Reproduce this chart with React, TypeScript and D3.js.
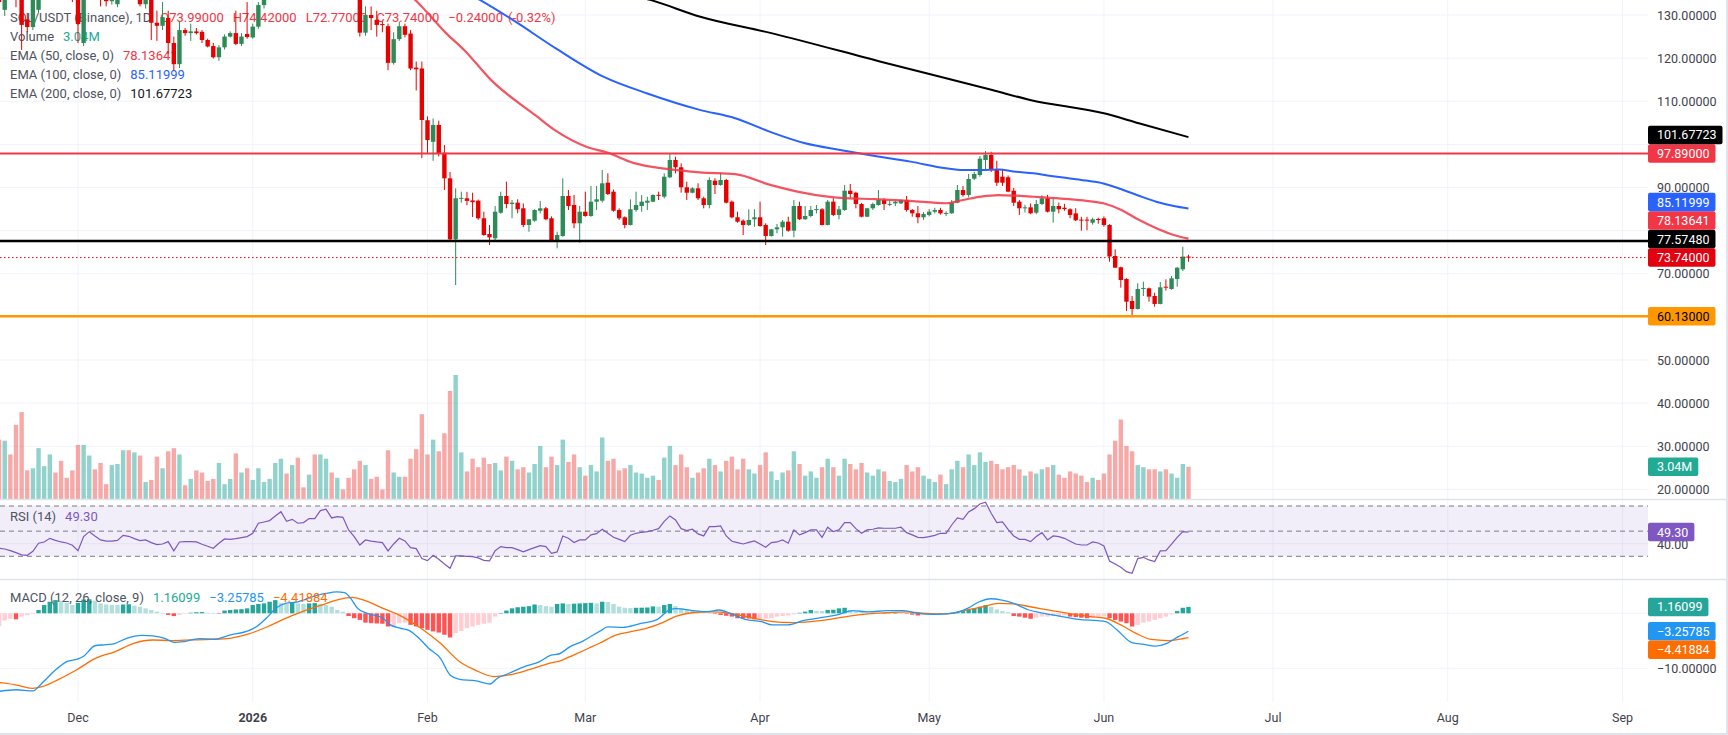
import React from "react"
import * as d3 from "d3"

// ---------- data (SOL/USDT 1D, 2025-11-17 .. 2026-06-16) ----------
const firstCandle = Date.UTC(2025, 10, 17)

// [open, high, low, close] per day
const ohlc: [number, number, number, number][] = [
  // Nov 17 - Nov 30
  [137, 139, 131.5, 133], [131.2, 137, 129.8, 135], [137, 139.5, 134, 135], [136, 137.5, 131.8, 134], [134, 135, 121.9, 127.7],
  [129, 130.5, 126, 127.2], [127.2, 136, 126.5, 134], [131.2, 137, 130.5, 136], [136, 139.5, 134.5, 138], [138, 141.5, 136.5, 140],
  [140, 142, 136, 138], [138, 139.5, 135, 136.5], [136.5, 138, 134, 135.5], [135.5, 137, 133, 134.2],
  // Dec
  [134.2, 135, 123.5, 127.9], [123.5, 136, 122.8, 135], [134, 139, 133.5, 138], [138, 139, 134.5, 136], [136, 137, 132, 134.5],
  [134.5, 135.5, 132, 133.2], [133.2, 135, 132.4, 134], [132.5, 135.5, 131.8, 134.5], [134.5, 139, 134, 138], [138, 140, 135.5, 136.5],
  [136.5, 139.5, 135.5, 138.5], [136, 137, 132, 132.5], [132.5, 134.5, 131.5, 134], [134, 135, 124.2, 128.2], [128.2, 131, 124, 127.5],
  [127.5, 133, 126.5, 129.5], [129.3, 131, 121, 123.5], [123.5, 125, 117.2, 118.6], [118.6, 128.5, 117.7, 126.5], [126.5, 127, 125.2, 125.8],
  [125.8, 128, 124, 126.2], [126.2, 127, 125.5, 125.8], [126.1, 126.5, 123.5, 124.2], [124.2, 124.5, 122.5, 122.7], [122.8, 123.5, 119.9, 120.2],
  [120.2, 123, 119.4, 122.5], [122.5, 125.5, 122, 125], [125, 126.2, 124.8, 125.8], [125.8, 131, 123, 123.3], [123.3, 125.8, 122.8, 125],
  [125.6, 133, 124.5, 124.9],
  // Jan
  [124.8, 128, 124.5, 127.3], [127.3, 133, 126.8, 132.3], [132.3, 137, 131.5, 135.5], [135.5, 138, 134.5, 137],
  [137, 141, 136, 140], [140, 144.5, 139, 143], [143, 144, 140, 141.5], [141.5, 145, 140.5, 143.5], [143.5, 144.5, 139.5, 140.5],
  [140.5, 141.5, 139, 139.8], [139.8, 142, 139, 141.2], [141.2, 142, 137, 138], [138, 142.5, 137.5, 141], [141, 144, 140, 143],
  [143, 144, 140.5, 141.5], [141.5, 143.5, 140.8, 142.5], [142.5, 143, 141.5, 142], [142, 142.5, 139.5, 140.5], [140.5, 141, 134, 137.5],
  [136.5, 138, 125, 125.9], [125.9, 132, 125.2, 130], [130, 132, 126.5, 129.3], [128.9, 131, 125, 127.7], [127.9, 128.5, 126, 127.7],
  [127.4, 128, 117.2, 118.9], [118.9, 126, 118.5, 124.4], [124.4, 128.5, 124, 127.4], [127.4, 128, 124.8, 125.4], [125.7, 126.5, 117.2, 117.6],
  [117.8, 119.2, 112.5, 117.4], [117.6, 119.2, 96.8, 105.65],
  // Feb
  [105.6, 106.5, 97.9, 101], [100.6, 106, 96.2, 104.5], [104.5, 105.5, 97.2, 97.9],
  [98.07, 99.85, 89.42, 92.13], [92.13, 93.59, 77.66, 77.99], [77.99, 89.81, 67.39, 87.5], [87.4, 89.03, 86.5, 87.6], [87.5, 89, 85.9, 86.9],
  [87, 88.79, 83.16, 86.6], [86.94, 87.2, 82.5, 82.86], [82.86, 84.39, 78.8, 78.99], [79.22, 81.3, 76.67, 78.45], [78.22, 85.71, 77.8, 84.39],
  [84.16, 89.03, 83.9, 88.03], [88.03, 91.35, 85.18, 86.17], [86.17, 87.1, 82.86, 86.48], [86.48, 87.26, 84.02, 84.95], [85.18, 86.3, 80.8, 81.31],
  [81.31, 82.7, 79.75, 82.63], [82.3, 84.95, 82.07, 84.78], [84.6, 86.86, 84, 85.18], [85.18, 85.5, 82.4, 82.63], [82.86, 83.3, 77.43, 77.67],
  [77.67, 79.75, 75.9, 78.99], [78.76, 92.13, 78.6, 88.03], [88.03, 89.42, 84.78, 85.71], [85.94, 88.26, 80.54, 81.7], [81.7, 85.71, 77.2, 84.39],
  // Mar
  [84.39, 89.03, 83.23, 83.39], [83.39, 90.35, 83.2, 86.71], [86.7, 90.35, 84.79, 87.26], [86.94, 94.06, 86.5, 90.97], [91.11, 93.29, 88.26, 88.49],
  [89.03, 89.5, 84.39, 84.62], [84.78, 85.18, 82.47, 82.86], [83.09, 83.3, 80.54, 81.31], [81.31, 87.26, 81.2, 84.95], [84.79, 89.03, 84.39, 85.94],
  [85.71, 88.26, 84.39, 86.71], [86.48, 87.87, 84.79, 86.94], [86.71, 88.4, 86.6, 88.26], [88.3, 89.03, 87.1, 88.1], [87.87, 93.29, 87.5, 92.51],
  [92.37, 97.77, 92.2, 96.38], [96.38, 97.14, 93.29, 94.69], [94.69, 95.6, 88.8, 90.05], [90.05, 91.35, 87.1, 88.79], [88.79, 90.05, 88.65, 89.81],
  [89.81, 90.97, 87.1, 87.5], [87.5, 87.87, 85.17, 85.94], [85.94, 92.37, 85.17, 91.74], [91.58, 92.13, 88.49, 90.58], [90.58, 93.43, 90.4, 91.74],
  [91.74, 92, 86.3, 86.48], [86.71, 87, 82.86, 83.09], [83.09, 84.39, 81.84, 82.07], [82.3, 82.63, 78.99, 81.31], [81.31, 84.95, 81.07, 82.47],
  [82.63, 84.95, 80.9, 83.09],
  // Apr
  [83.09, 86.71, 80.9, 81.07], [81.31, 81.7, 76.67, 78.76], [78.76, 80.4, 78.6, 80.3], [80.3, 81.54, 79.4, 80.77],
  [80.77, 82.47, 78.6, 82.07], [82.07, 83.23, 79.75, 79.98], [79.98, 87.1, 78.45, 85.71], [85.71, 86.71, 82.47, 82.63], [82.63, 85.71, 82.5, 83.39],
  [83.39, 85.71, 83.09, 84.78], [84.85, 85.94, 84, 85], [84.95, 85.2, 81.2, 81.31], [81.31, 87.1, 81.2, 86.71], [86.71, 87.5, 83.39, 83.63],
  [83.63, 85.71, 82.63, 84.95], [84.78, 90.58, 84.6, 89.26], [89.26, 90.81, 87.5, 88.49], [88.79, 89.03, 85.17, 86.17], [86.17, 86.4, 83.09, 83.23],
  [83.23, 85.3, 83.1, 85.18], [85.18, 86.48, 84.79, 86.17], [85.94, 89.42, 85.8, 87.1], [87.1, 87.5, 84.78, 86.17], [86.1, 86.94, 85.7, 86.2],
  [86.32, 86.94, 85.7, 86.71], [86.32, 87.26, 86.17, 87.1], [87.1, 88.03, 84.39, 84.79], [84.79, 85, 83.23, 84.02], [84.02, 85.71, 81.7, 83.09],
  // May
  [83.09, 84.3, 82.5, 83.85], [83.63, 85, 83.3, 84.39], [84.39, 85.3, 84, 84.78], [84.78, 85.3, 83.7, 84], [84, 84.5, 83.4, 84.1],
  [84.02, 87.1, 83.9, 86.48], [86.48, 90.58, 86.34, 89.42], [89.42, 90.35, 87.87, 88.26], [88.26, 93.13, 87.72, 91.97], [92.04, 93.67, 91.74, 93.13],
  [92.9, 97.3, 92.5, 96.68], [96.38, 98.46, 94.06, 97.54], [97.54, 98.3, 93.6, 94.06], [94.22, 96.21, 90.35, 91.11], [92.51, 94.06, 90.35, 91.11],
  [92.37, 92.8, 88.9, 89.03], [89.26, 89.9, 85.71, 86.48], [86.71, 87.1, 83.63, 85.18], [85.18, 86, 84.2, 85.4], [85.4, 86.3, 83.8, 84.02],
  [84.16, 87.1, 83.8, 86.17], [86.17, 88.2, 85.9, 87.5], [87.5, 88.3, 84.2, 84.39], [84.39, 87.5, 81.84, 85.71], [85.71, 86.5, 84, 84.95],
  [85.3, 86.2, 84.6, 85], [84.95, 85.2, 82.9, 83.63], [84, 85.2, 82.2, 82.4], [82.55, 83.2, 80, 82.4], [82.55, 83.2, 80.1, 82.4],
  [81.84, 83, 81.4, 82.63],
  // Jun
  [82.7, 83, 81.6, 82.55], [82.86, 83.3, 80.9, 81.31], [81.31, 81.5, 72.8, 74], [74.12, 75.67, 71.3, 71.41],
  [71.5, 71.64, 66.76, 68.55], [68.78, 68.95, 61.37, 63.52], [63.68, 64.85, 60.04, 61.83], [61.83, 67.79, 61.7, 66.46], [66.6, 68.16, 64.84, 66.7],
  [66.62, 66.8, 63.52, 64.69], [64.84, 65.6, 62.35, 63], [63, 68.1, 62.9, 66.86], [67, 68.7, 66.1, 66.86], [66.46, 69.48, 66.3, 68.94],
  [68.78, 71.5, 66.99, 71.41], [71.03, 76.27, 70.64, 73.98], [73.99, 74.42, 72.77, 73.74],
]

// volume in millions, per day
const volumeM = [
  5.6, 5.5, 4.2, 7.0, 8.2, 2.7, 2.9, 4.8, 3.1, 4.2, 2.5, 3.6, 2.0, 2.7,
  5.1, 5.1, 4.1, 2.8, 3.4, 1.4, 3.2, 3.3, 4.6, 4.6, 4.4, 4.1, 1.6, 1.8, 4.0, 2.9, 4.5, 4.8, 4.2, 1.3,
  1.9, 2.7, 2.5, 1.7, 1.9, 3.4, 1.4, 1.9, 4.3, 2.5, 2.9, 1.8, 2.9, 1.6, 1.9, 3.4, 3.8, 2.4, 3.2, 3.9,
  1.1, 2.3, 4.2, 4.2, 3.8, 2.5, 2.0, 0.9, 2.0, 2.8, 3.6, 3.2, 1.9, 2.1, 0.9, 4.6, 2.5, 2.1, 2.1, 3.8,
  4.7, 8.0, 4.2, 5.6, 4.5, 6.2, 10.2, 11.7, 4.4, 2.6, 3.8, 3.0, 3.9, 3.3, 3.4, 2.7, 4.0, 3.6, 2.8, 3.0,
  2.5, 3.3, 5.0, 3.0, 4.0, 3.2, 5.6, 3.5, 4.2, 3.0, 2.2, 3.2, 2.6, 5.8, 3.6, 3.8, 2.7, 2.9, 3.2, 2.5,
  2.4, 2.0, 2.2, 1.8, 3.9, 5.0, 3.2, 4.2, 3.0, 2.0, 2.5, 2.9, 3.8, 3.2, 2.6, 3.6, 4.0, 2.8, 3.8, 2.8,
  2.4, 3.2, 4.4, 2.6, 1.8, 2.5, 2.7, 4.5, 3.3, 2.2, 2.6, 2.0, 3.0, 3.8, 3.0, 2.2, 3.8, 3.3, 2.8, 3.4,
  2.5, 2.2, 2.8, 2.6, 1.7, 1.6, 1.9, 3.2, 2.6, 3.0, 2.2, 1.9, 1.6, 2.3, 1.4, 2.8, 3.6, 3.0, 4.2, 3.2,
  4.4, 3.5, 3.6, 3.3, 2.8, 3.0, 3.2, 2.8, 2.2, 2.6, 2.4, 2.8, 3.0, 3.2, 2.3, 2.0, 2.6, 2.4, 2.2, 1.6,
  2.0, 1.8, 2.4, 4.2, 5.5, 7.5, 5.0, 4.5, 3.2, 3.0, 2.8, 2.8, 2.6, 2.8, 2.4, 2.0, 3.3, 3.04,
]

const rsi14 = [
  36.4, 35.8, 34.5, 32.9, 31.1, 30.8, 34.0, 40.4, 41.4, 44.3, 42.7, 41.4, 40.6, 38.8,
  34.5, 45.7, 49.6, 46.2, 43.0, 42.0, 42.0, 42.7, 46.7, 45.9, 44.1, 42.5, 43.0, 40.9, 39.3, 39.8, 41.7, 34.3, 41.4, 41.7,
  41.7, 41.4, 39.6, 38.0, 36.4, 40.4, 43.8, 43.5, 44.1, 44.9, 45.7, 48.3, 56.3, 57.3, 58.4, 62.1, 65.5, 57.9, 59.4, 56.3,
  56.8, 60.0, 60.0, 66.3, 67.4, 60.5, 61.6, 61.0, 51.0, 45.7, 39.0, 43.0, 42.0, 41.4, 40.9, 34.3, 39.8, 44.3, 42.2, 36.9,
  36.1, 28.2, 26.6, 30.8, 27.6, 23.9, 20.5, 30.3, 30.3, 30.0, 29.7, 28.7, 26.8, 26.3, 34.5, 37.7, 36.9, 36.9, 35.3, 33.5,
  35.3, 36.9, 38.5, 37.7, 32.4, 33.5, 46.2, 44.3, 40.9, 43.0, 43.0, 47.0, 48.0, 51.5, 48.3, 45.1, 43.5, 41.7, 46.7, 48.3,
  49.1, 49.6, 50.7, 52.0, 57.8, 62.1, 58.9, 52.0, 50.4, 51.5, 47.8, 46.2, 53.6, 53.6, 54.1, 46.2, 42.0, 40.9, 39.8, 41.1,
  42.2, 39.8, 37.2, 40.9, 41.4, 43.0, 40.4, 51.0, 47.0, 48.8, 51.0, 51.0, 45.1, 53.1, 49.6, 51.0, 56.8, 56.8, 52.0, 48.3,
  51.0, 51.5, 52.6, 52.3, 52.3, 52.3, 53.1, 48.8, 47.0, 45.1, 44.9, 45.7, 46.7, 48.3, 48.3, 54.9, 60.5, 59.4, 65.3, 67.9,
  71.6, 73.0, 64.2, 56.8, 57.3, 51.5, 46.2, 43.5, 43.5, 41.7, 45.7, 48.8, 43.0, 46.2, 45.7, 44.3, 42.0, 39.8, 39.0, 39.0,
  41.4, 40.6, 38.2, 26.3, 23.9, 21.3, 17.8, 16.5, 28.2, 29.2, 27.1, 25.8, 34.3, 34.5, 39.6, 45.1, 49.6, 49.3,
]

const macdHist = [
  -2.3, -1.3, -1.0, -1.1, -0.6, -0.35, -0.1, 0.6, 1.5, 2.1, 2.4, 2.3, 1.9, 1.5,
  1.9, 2.5, 2.55, 2.3, 1.8, 1.6, 1.5, 1.5, 1.6, 1.65, 1.4, 1.2, 0.9, 0.6, 0.3, 0.0, -0.3, -0.5, -0.3, -0.1,
  0.1, 0.2, 0.22, 0.1, 0.02, -0.06, 0.5, 0.6, 0.7, 0.75, 0.9, 1.5, 1.7, 1.8, 2.1, 2.4, 1.9, 1.7, 1.9, 1.8,
  1.7, 1.8, 1.85, 1.7, 1.5, 1.2, 0.6, 0.3, -0.5, -0.9, -1.2, -1.7, -1.8, -1.85, -1.9, -2.4, -2.4, -1.8, -1.7, -2.1,
  -2.4, -2.7, -3.0, -3.3, -3.5, -3.9, -4.4, -3.6, -3.2, -2.7, -2.4, -2.1, -1.9, -1.7, -0.6, 0.0, 0.5, 0.9, 1.1, 1.2,
  1.3, 1.6, 1.5, 1.3, 1.2, 1.7, 1.8, 1.7, 1.75, 1.8, 1.85, 1.9, 1.8, 2.1, 2.05, 1.7, 1.2, 1.0, 0.95, 1.0,
  1.02, 1.05, 1.25, 1.2, 1.5, 1.7, 1.3, 0.9, 0.7, 0.5, 0.3, 0.1, 0.0, -0.1, -0.3, -0.45, -0.6, -0.9, -0.92, -0.95,
  -1.1, -1.0, -0.95, -0.9, -0.6, -0.5, -0.4, -0.2, 0.1, 0.3, 0.6, 0.45, 0.4, 0.6, 0.65, 0.9, 1.0, 0.6, 0.35, 0.25,
  0.1, 0.05, 0.0, 0.05, 0.02, 0.05, 0.03, -0.1, -0.25, -0.4, -0.3, -0.2, -0.1, 0.05, 0.02, 0.1, 0.2, 0.4, 0.7, 0.9,
  1.2, 1.5, 1.2, 0.7, 0.4, 0.2, -0.5, -0.6, -0.8, -1.0, -0.8, -0.6, -0.6, -0.5, -0.5, -0.4, -0.6, -0.7, -0.8, -0.9,
  -0.8, -0.6, -0.55, -0.9, -1.2, -1.5, -1.8, -2.4, -2.1, -1.7, -1.5, -1.2, -0.9, -0.6, -0.2, 0.4, 1.0, 1.16099,
]

// smooth lines, sampled: [days since 2025-12-01, value]
const macdLine: [number, number][] = [
  [-14, -14.2], [-11, -13.9], [-8, -14.1], [-6.4, -12.7], [-4.3, -10.6], [-2, -8.8], [0, -8.3], [1, -7.8], [3, -5.9], [5, -5.7],
  [6.5, -5.5], [8.6, -4.55], [11.3, -4.0], [13.3, -4.1], [15.4, -4.55], [17.1, -5.3], [18.8, -5.15], [21.5, -4.6], [24.2, -4.7], [26.9, -3.95],
  [30.3, -3.15], [31.7, -2.4], [33.7, -0.6], [35.1, 0.9], [36.8, 1.8], [38.8, 2.05], [40.8, 2.7], [42.5, 3.3], [43.9, 3.6], [45.9, 3.9],
  [47.3, 3.75], [48.6, 2.4], [49.6, 0.9], [51.3, 0], [54.1, -0.9], [55.4, -2.1], [57.1, -2.7], [58.8, -3.15], [60.5, -4.55], [62.2, -6.35],
  [64.3, -8.2], [66, -11.2], [67.7, -12.0], [70.4, -12.25], [73.1, -12.85], [74.4, -11.8], [76.5, -10.9], [79.2, -9.7], [81.9, -8.8], [83.9, -7.6],
  [85.3, -7.4], [87.3, -6.05], [89.4, -5.15], [91.4, -3.95], [92.6, -3.25], [94, -2.45], [96.7, -2.55], [99.4, -1.95], [102.8, -1.1], [104.9, 0.6],
  [106.2, 0.85], [109, 0.5], [111.7, 0.3], [113.7, 0.6], [115.7, 0], [118.4, -1.1], [121.2, -1.5], [123.2, -2.1], [125.9, -2.1], [128.6, -1.35],
  [132, -0.75], [134.7, -0.3], [137.5, 0.5], [140.2, 0.25], [143.6, 0.5], [146.3, 0.5], [149, 0], [151.7, -0.2], [155.1, 0], [157.8, 0.9],
  [159.9, 2.1], [161.9, 2.65], [163.9, 2.4], [166, 1.8], [168.7, 0.6], [171.4, 0], [174.1, -0.5], [177.5, -1.1], [180.9, -1.35], [182.3, -1.5],
  [184.3, -3.0], [187, -5.35], [189.1, -5.65], [191.1, -5.95], [193.2, -5.45], [195.2, -4.25], [197, -3.25785],
]
const signalLine: [number, number][] = [
  [-14, -12.6], [-11.1, -13.0], [-8.1, -13.65], [-6.4, -13.35], [-3.6, -12.1], [-0.3, -10.3], [3.1, -8.2], [6.5, -7.0], [9.9, -5.45], [13.3, -4.85],
  [16.7, -4.95], [20.1, -4.85], [23.5, -4.75], [26.9, -4.55], [30.3, -3.75], [33.7, -2.4], [36.4, -1.1], [39.8, 0.3], [43.2, 1.5], [45.9, 2.4],
  [48.6, 2.9], [50.7, 2.4], [54.1, 0.9], [57.5, -0.6], [60.9, -2.75], [64.3, -5.45], [67.7, -8.8], [70.4, -10.3], [73.8, -11.5], [76.5, -11.2],
  [79.9, -10.3], [83.3, -9.2], [85.9, -8.5], [87.9, -7.6], [90.6, -6.35], [92.6, -5.4], [95.4, -3.95], [98.1, -3.35], [100.8, -2.75], [103.5, -1.8],
  [106.2, -0.5], [108.9, 0.1], [112.3, 0.25], [115.7, 0], [119.8, -0.9], [123.2, -1.5], [126.6, -1.7], [130, -1.5], [133.4, -1.1], [136.8, -0.5],
  [140.2, -0.1], [143.6, 0.1], [147, 0.25], [150.4, 0], [153.8, -0.1], [157.2, 0.5], [160.6, 1.2], [163.3, 1.8], [166, 1.7], [169.4, 1.1],
  [172.8, 0.5], [176.2, -0.1], [179.6, -0.6], [182.3, -0.9], [185, -2.1], [187.7, -3.65], [190.4, -4.75], [193.2, -4.95], [195.2, -4.75], [197, -4.41884],
]

const ema50: [number, number][] = [
  [50, 138.5], [55, 137], [58, 135.2], [59.8, 133.5], [62, 130.5], [65.3, 125.8], [68.5, 121.9], [73.3, 114.9], [81.3, 106.6], [84.6, 103.3],
  [90.3, 99.4], [93.9, 98.1], [98.5, 95.7], [104.5, 94.3], [110.3, 93.5], [116.6, 93.1], [122.8, 90.6], [129, 88.7], [135.2, 87.6], [141.4, 87.3],
  [147.6, 86.9], [154, 86.35], [157, 87.1], [160.2, 87.9], [163.3, 88.25], [166.4, 88.1], [169.5, 87.85], [172.6, 87.6], [175.7, 87.3], [178.9, 86.9],
  [181.9, 86.35], [185.1, 84.8], [188.2, 82.5], [191.3, 80.55], [194.4, 79.0], [197, 78.13641],
]
const ema100: [number, number][] = [
  [65, 138], [71.3, 133.5], [77.2, 128.8], [85.2, 121.9], [93.2, 115.7], [101, 111.8], [110.3, 108.0], [116.6, 106.05], [122.8, 102.9], [129, 100.25],
  [135.2, 98.7], [141.4, 97.3], [147.7, 96.0], [154, 94.45], [157, 94.05], [160.2, 94.05], [163.3, 94.2], [166.4, 93.65], [169.5, 93.3], [172.6, 92.65],
  [175.7, 92.15], [178.8, 91.6], [181.9, 90.95], [185.1, 89.6], [188.2, 88.1], [191.3, 86.7], [194.4, 85.7], [197, 85.11999],
]
const ema200: [number, number][] = [
  [90, 136.5], [101.5, 133.5], [110.4, 129.6], [123, 125.8], [142.6, 119.1], [162.2, 112.6], [168.9, 110.3], [182, 107.2], [188.2, 104.9], [197, 101.67723],
]

const levels = [
  { value: 97.89, color: "#f23645", width: 2 },
  { value: 77.5748, color: "#000000", width: 2.5 },
  { value: 60.13, color: "#ff9800", width: 2.5 },
]
const lastClose = 73.74
const priceTicks = d3.range(20, 131, 10)

// ---------- layout ----------
const W = 1728
const H = 735
const PLOT_R = 1648
const PRICE_BOTTOM = 499
const RSI_TOP = 500
const RSI_BOTTOM = 579
const MACD_BOTTOM = 702
const FONT = "Roboto, 'Noto Sans', sans-serif"
const AXIS_TEXT = "#3f424b"
const LEGEND_TEXT = "#50535e"
const UP = "#2e8b57"
const DOWN = "#e60000"
const LABEL_H = 18.5
const AXIS_FS = 12.5
const LEGEND_FS = 13

const dec1 = Date.UTC(2025, 11, 1)
const dayToDate = (d: number) => new Date(dec1 + d * 864e5)
const candleDate = (i: number) => new Date(firstCandle + i * 864e5)

let measureCtx: CanvasRenderingContext2D | null = null
function textWidth(s: string) {
  if (!measureCtx) measureCtx = document.createElement("canvas").getContext("2d")
  if (!measureCtx) return s.length * 7
  measureCtx.font = `${AXIS_FS}px Roboto`
  return measureCtx.measureText(s).width
}

type AxisLabel = { y: number; text: string; bg: string; fg: string }

// push overlapping price-scale badges apart, like the chart does
function stack(items: AxisLabel[], dir: "up" | "down") {
  const sorted = [...items].sort((a, b) => (dir === "up" ? b.y - a.y : a.y - b.y))
  for (let i = 1; i < sorted.length; i++) {
    const prev = sorted[i - 1]
    if (dir === "up" && sorted[i].y > prev.y - LABEL_H) sorted[i].y = prev.y - LABEL_H
    if (dir === "down" && sorted[i].y < prev.y + LABEL_H) sorted[i].y = prev.y + LABEL_H
  }
  return sorted
}

function Badge({ l }: { l: AxisLabel }) {
  const w = textWidth(l.text) + 15
  return (
    <g>
      <rect x={PLOT_R} y={l.y - LABEL_H / 2} width={w} height={LABEL_H} rx={2} fill={l.bg} />
      <text x={PLOT_R + 9} y={l.y} dy="0.36em" fill={l.fg} fontSize={AXIS_FS}>
        {l.text}
      </text>
    </g>
  )
}

export default function App() {
  const x = d3
    .scaleUtc()
    .domain([new Date(dec1), new Date(Date.UTC(2026, 8, 1))])
    .range([78, 1622.5])
  const yPrice = d3.scaleLinear().domain([50, 130]).range([360, 15])
  const yVol = d3.scaleLinear().domain([0, 10]).range([PRICE_BOTTOM, PRICE_BOTTOM - 106])
  const yRsi = d3.scaleLinear().domain([30, 70]).range([556.3, 506])
  const yMacd = d3.scaleLinear().domain([-10, 0]).range([668.3, 613.3])
  const fmt5 = d3.format(".5f")

  const months = d3.utcMonth.range(new Date(dec1), new Date(Date.UTC(2026, 8, 2)))
  const monthLabel = (d: Date) => (d.getUTCMonth() === 0 ? d3.utcFormat("%Y")(d) : d3.utcFormat("%b")(d))

  const bw = 4.4

  const sparseLine = (y: d3.ScaleLinear<number, number>) =>
    d3
      .line<[number, number]>()
      .x((p) => x(dayToDate(p[0])))
      .y((p) => y(p[1]))
      .curve(d3.curveMonotoneX)

  const rsiPath = d3
    .line<number>()
    .x((_, i) => x(candleDate(i)))
    .y((v) => yRsi(v))(rsi14)

  const last = <T,>(a: T[]) => a[a.length - 1]

  const priceLabels = stack(
    [
      { y: yPrice(last(ema200)[1]), text: fmt5(last(ema200)[1]), bg: "#000000", fg: "#ffffff" },
      { y: yPrice(levels[0].value), text: fmt5(levels[0].value), bg: "#f23645", fg: "#ffffff" },
      { y: yPrice(last(ema100)[1]), text: fmt5(last(ema100)[1]), bg: "#2962ff", fg: "#ffffff" },
      { y: yPrice(last(ema50)[1]), text: fmt5(last(ema50)[1]), bg: "#f23645", fg: "#ffffff" },
      { y: yPrice(levels[1].value), text: fmt5(levels[1].value), bg: "#000000", fg: "#ffffff" },
      { y: yPrice(lastClose), text: fmt5(lastClose), bg: "#e3000f", fg: "#ffffff" },
      { y: yPrice(levels[2].value), text: fmt5(levels[2].value), bg: "#ff9800", fg: "#000000" },
    ],
    "up"
  )
  const macdLabels = stack(
    [
      { y: yMacd(last(macdHist)), text: fmt5(last(macdHist)), bg: "#26a69a", fg: "#ffffff" },
      { y: yMacd(last(macdLine)[1]), text: fmt5(last(macdLine)[1]), bg: "#2196f3", fg: "#ffffff" },
      { y: yMacd(last(signalLine)[1]), text: fmt5(last(signalLine)[1]), bg: "#ff6d00", fg: "#ffffff" },
    ],
    "down"
  )
  // scale ticks that sit under a badge are not drawn
  const hidden = (y: number, badges: AxisLabel[]) => badges.some((b) => Math.abs(b.y - y) < 10)

  const lastVol = last(volumeM)
  const lastRsi = last(rsi14)
  const [lo, lh, ll, lc] = last(ohlc)
  const prevClose = ohlc[ohlc.length - 2][3]
  const chg = lc - prevClose
  const chgPct = (chg / prevClose) * 100

  return (
    <div>
      <style>{`body{margin:0;overflow:hidden;background:#fff}`}</style>
      <svg width={W} height={H} style={{ display: "block", fontFamily: FONT }}>
        <defs>
          <clipPath id="pricePane">
            <rect x={0} y={0} width={PLOT_R} height={PRICE_BOTTOM} />
          </clipPath>
          <clipPath id="lowerPanes">
            <rect x={0} y={RSI_TOP} width={PLOT_R} height={MACD_BOTTOM - RSI_TOP} />
          </clipPath>
        </defs>
        <rect width={W} height={H} fill="#ffffff" />

        {/* grid */}
        {priceTicks.map((t) => (
          <line key={"g" + t} x1={0} x2={PLOT_R} y1={yPrice(t)} y2={yPrice(t)} stroke="#f0f3fa" />
        ))}
        <line x1={0} x2={PLOT_R} y1={yRsi(40)} y2={yRsi(40)} stroke="#f0f3fa" />
        {[0, -10].map((t) => (
          <line key={"mg" + t} x1={0} x2={PLOT_R} y1={yMacd(t)} y2={yMacd(t)} stroke="#f0f3fa" />
        ))}
        {months.map((m) => (
          <line key={"v" + m.getTime()} x1={x(m)} x2={x(m)} y1={0} y2={MACD_BOTTOM} stroke="#f0f3fa" />
        ))}

        {/* legend (candles are drawn over it) */}
        <g fontSize={LEGEND_FS}>
          <text x={10} y={17} dy="0.35em">
            <tspan fill={LEGEND_TEXT}>SOL/USDT (Binance), 1D</tspan>
            <tspan dx={9} fill="#f23645">O{fmt5(lo)}</tspan>
            <tspan dx={9} fill="#f23645">H{fmt5(lh)}</tspan>
            <tspan dx={9} fill="#f23645">L{fmt5(ll)}</tspan>
            <tspan dx={9} fill="#f23645">C{fmt5(lc)}</tspan>
            <tspan dx={9} fill="#f23645">{fmt5(chg)}</tspan>
            <tspan dx={5} fill="#f23645">({chgPct.toFixed(2)}%)</tspan>
          </text>
          <text x={10} y={36.5} dy="0.35em">
            <tspan fill={LEGEND_TEXT}>Volume</tspan>
            <tspan dx={9} fill="#22ab94">{lastVol.toFixed(2)}M</tspan>
          </text>
          <text x={10} y={55.5} dy="0.35em">
            <tspan fill={LEGEND_TEXT}>EMA (50, close, 0)</tspan>
            <tspan dx={9} fill="#f23645">{fmt5(last(ema50)[1])}</tspan>
          </text>
          <text x={10} y={74.5} dy="0.35em">
            <tspan fill={LEGEND_TEXT}>EMA (100, close, 0)</tspan>
            <tspan dx={9} fill="#2962ff">{fmt5(last(ema100)[1])}</tspan>
          </text>
          <text x={10} y={93.5} dy="0.35em">
            <tspan fill={LEGEND_TEXT}>EMA (200, close, 0)</tspan>
            <tspan dx={9} fill="#131722">{fmt5(last(ema200)[1])}</tspan>
          </text>
        </g>

        {/* price pane */}
        <g clipPath="url(#pricePane)">
          {volumeM.map((v, i) => {
            const up = ohlc[i][3] >= ohlc[i][0]
            const cx = x(candleDate(i))
            return (
              <rect
                key={"vol" + i}
                x={cx - bw / 2}
                y={yVol(v)}
                width={bw}
                height={PRICE_BOTTOM - yVol(v)}
                fill={up ? "rgba(38,166,154,0.5)" : "rgba(239,83,80,0.5)"}
              />
            )
          })}
          {ohlc.map(([o, h, l, c], i) => {
            const up = c >= o
            const cx = x(candleDate(i))
            const col = up ? UP : DOWN
            const top = yPrice(Math.max(o, c))
            const bot = yPrice(Math.min(o, c))
            return (
              <g key={"c" + i}>
                <line x1={cx} x2={cx} y1={yPrice(h)} y2={yPrice(l)} stroke={col} strokeWidth={1} />
                <rect x={cx - bw / 2} y={top} width={bw} height={Math.max(1, bot - top)} fill={col} />
              </g>
            )
          })}
          <path d={sparseLine(yPrice)(ema200) || ""} fill="none" stroke="#000000" strokeWidth={2} />
          <path d={sparseLine(yPrice)(ema100) || ""} fill="none" stroke="#2962ff" strokeWidth={2} />
          <path d={sparseLine(yPrice)(ema50) || ""} fill="none" stroke="#f23645" strokeOpacity={0.85} strokeWidth={2.2} />
          {levels.map((lv) => (
            <line key={"lv" + lv.value} x1={0} x2={PLOT_R} y1={yPrice(lv.value)} y2={yPrice(lv.value)} stroke={lv.color} strokeWidth={lv.width} />
          ))}
          <line x1={0} x2={PLOT_R} y1={yPrice(lastClose)} y2={yPrice(lastClose)} stroke="#e3000f" strokeWidth={1} strokeDasharray="1.5 2.5" />
        </g>

        {/* RSI pane */}
        <rect x={0} y={yRsi(70)} width={PLOT_R} height={yRsi(30) - yRsi(70)} fill="rgba(126,87,194,0.1)" />
        {[70, 50, 30].map((t) => (
          <line key={"rl" + t} x1={0} x2={PLOT_R} y1={yRsi(t)} y2={yRsi(t)} stroke="#787b86" strokeDasharray="5 4" />
        ))}
        <g clipPath="url(#lowerPanes)">
          <path d={rsiPath || ""} fill="none" stroke="#7e57c2" strokeWidth={1.2} />
        </g>
        <text x={10} y={516} dy="0.35em" fontSize={LEGEND_FS}>
          <tspan fill={LEGEND_TEXT}>RSI (14)</tspan>
          <tspan dx={9} fill="#7e57c2">{lastRsi.toFixed(2)}</tspan>
        </text>

        {/* MACD pane */}
        <g clipPath="url(#lowerPanes)">
          {macdHist.map((h, i) => {
            const prev = i > 0 ? macdHist[i - 1] : h
            const col = h >= 0 ? (h > prev ? "#26a69a" : "#b2dfdb") : h < prev ? "#ff5252" : "#ffcdd2"
            const cx = x(candleDate(i))
            const y0 = yMacd(0)
            const y1 = yMacd(h)
            return <rect key={"h" + i} x={cx - bw / 2} y={Math.min(y0, y1)} width={bw} height={Math.max(0.5, Math.abs(y1 - y0))} fill={col} />
          })}
          <path d={sparseLine(yMacd)(signalLine) || ""} fill="none" stroke="#ff6d00" strokeWidth={1.3} />
          <path d={sparseLine(yMacd)(macdLine) || ""} fill="none" stroke="#2196f3" strokeWidth={1.3} />
        </g>
        <text x={10} y={597} dy="0.35em" fontSize={LEGEND_FS}>
          <tspan fill={LEGEND_TEXT}>MACD (12, 26, close, 9)</tspan>
          <tspan dx={9} fill="#22ab94">{fmt5(last(macdHist))}</tspan>
          <tspan dx={9} fill="#2196f3">{fmt5(last(macdLine)[1])}</tspan>
          <tspan dx={9} fill="#ff6d00">{fmt5(last(signalLine)[1])}</tspan>
        </text>

        {/* pane separators and frame */}
        <line x1={0} x2={W} y1={RSI_TOP - 0.5} y2={RSI_TOP - 0.5} stroke="#e0e3eb" strokeWidth={1.5} />
        <line x1={0} x2={W} y1={RSI_BOTTOM + 0.5} y2={RSI_BOTTOM + 0.5} stroke="#e0e3eb" strokeWidth={1.5} />
        <rect x={0} y={H - 2} width={W} height={2} fill="#e0e3eb" />
        <rect x={W - 2} y={0} width={2} height={H} fill="#e0e3eb" />

        {/* price scale */}
        <g fontSize={AXIS_FS} fill={AXIS_TEXT}>
          {priceTicks
            .filter((t) => !hidden(yPrice(t), priceLabels))
            .map((t) => (
              <text key={"pt" + t} x={PLOT_R + 9} y={yPrice(t)} dy="0.36em">
                {fmt5(t)}
              </text>
            ))}
          <text x={PLOT_R + 9} y={yRsi(40) + 1} dy="0.36em">
            {(40).toFixed(2)}
          </text>
          {[0, -10]
            .filter((t) => !hidden(yMacd(t), macdLabels))
            .map((t) => (
              <text key={"mt" + t} x={PLOT_R + 9} y={yMacd(t)} dy="0.36em">
                {fmt5(t)}
              </text>
            ))}
        </g>
        {priceLabels.map((l, i) => (
          <Badge key={"pl" + i} l={l} />
        ))}
        <Badge l={{ y: yVol(lastVol), text: lastVol.toFixed(2) + "M", bg: "#22ab94", fg: "#ffffff" }} />
        <Badge l={{ y: yRsi(lastRsi), text: lastRsi.toFixed(2), bg: "#7e57c2", fg: "#ffffff" }} />
        {macdLabels.map((l, i) => (
          <Badge key={"ml" + i} l={l} />
        ))}

        {/* time scale */}
        <g fontSize={AXIS_FS} fill={AXIS_TEXT} textAnchor="middle">
          {months.map((m) => (
            <text key={"tl" + m.getTime()} x={x(m)} y={718} dy="0.35em" fontWeight={m.getUTCMonth() === 0 ? 700 : 400}>
              {monthLabel(m)}
            </text>
          ))}
        </g>
      </svg>
    </div>
  )
}
